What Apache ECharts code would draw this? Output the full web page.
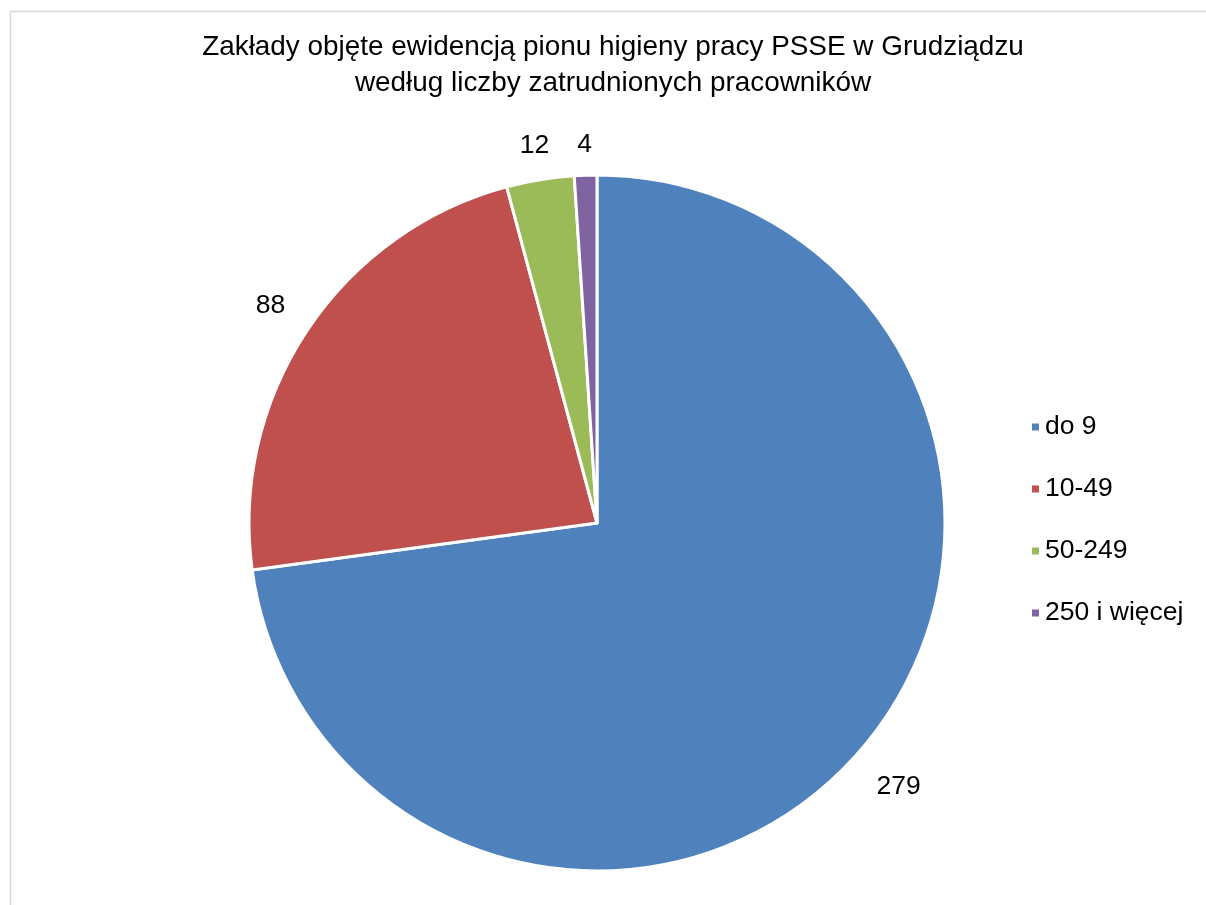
<!DOCTYPE html>
<html>
<head>
<meta charset="utf-8">
<script src="https://cdn.jsdelivr.net/npm/echarts@6/dist/echarts.min.js"></script>
<style>
html,body{margin:0;padding:0;background:#fff;}
#main{width:1206px;height:905px;}
</style>
</head>
<body>
<div id="main"></div>
<script>
var categories = ['do 9', '10-49', '50-249', '250 i więcej'];
var values = [279, 88, 12, 4];
var colors = ['#4F81BD', '#C0504D', '#9BBB59', '#8064A2'];
var titleText = 'Zakłady objęte ewidencją pionu higieny pracy PSSE w Grudziądzu\nwedług liczby zatrudnionych pracowników';

var FONT = '"Liberation Sans", Arial, sans-serif';
var chart = echarts.init(document.getElementById('main'), null, {renderer: 'canvas'});
var LABEL_GAP = 17;
var H_WEIGHT = 1.6;

var option = {
  backgroundColor: '#ffffff',
  animation: false,
  color: colors,
  title: {
    text: titleText,
    left: 613,
    top: 29,
    textAlign: 'center',
    padding: 0,
    textStyle: {
      fontFamily: FONT,
      fontSize: 27.9,
      fontWeight: 'normal',
      color: '#000000',
      lineHeight: 36
    }
  },
  legend: {
    orient: 'vertical',
    left: 1025,
    top: 407,
    itemWidth: 9,
    itemHeight: 9,
    itemGap: 32,
    icon: 'rect',
    data: categories,
    textStyle: {
      fontFamily: FONT,
      fontSize: 26.5,
      color: '#000000',
      lineHeight: 30
    }
  },
  graphic: [{
    type: 'rect',
    shape: {x: 10.5, y: 11.5, width: 1400, height: 1000},
    style: {fill: 'none', stroke: '#d9d9d9', lineWidth: 1.5},
    silent: true,
    z: -10
  }],
  series: [{
    type: 'pie',
    center: [597, 523],
    radius: 348,
    startAngle: 90,
    clockwise: true,
    avoidLabelOverlap: false,
    data: categories.map(function (c, i) { return {name: c, value: values[i]}; }),
    itemStyle: {borderColor: '#ffffff', borderWidth: 3},
    label: {
      show: true,
      position: 'outside',
      formatter: '{c}',
      fontFamily: FONT,
      fontSize: 26.5,
      color: '#000000',
      distanceToLabelLine: 0
    },
    labelLine: {
      show: true,
      length: 10,
      length2: 0,
      lineStyle: {color: 'rgba(0,0,0,0)', width: 1}
    },
    labelLayout: function (p) {
      var pts = p.labelLinePoints;
      if (!pts) return {};
      var ux = pts[1][0] - pts[0][0], uy = pts[1][1] - pts[0][1];
      var n = Math.sqrt(ux * ux + uy * uy) || 1;
      ux /= n; uy /= n;
      var w = p.labelRect.width, h = p.labelRect.height;
      var off = LABEL_GAP + H_WEIGHT * Math.abs(ux) * w / 2 + Math.abs(uy) * h / 2;
      return {
        x: pts[0][0] + ux * off,
        y: pts[0][1] + uy * off,
        align: 'center',
        verticalAlign: 'middle'
      };
    },
    emphasis: {disabled: true}
  }]
};
chart.setOption(option);
</script>
</body>
</html>
